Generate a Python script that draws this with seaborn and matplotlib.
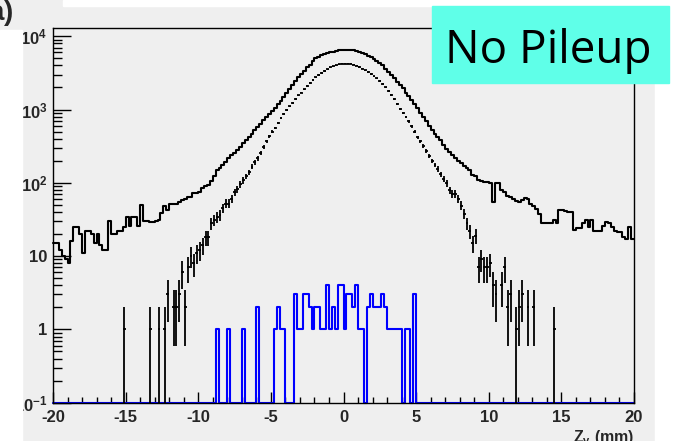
import numpy as np
import pandas as pd
import seaborn as sns
import matplotlib.pyplot as plt
from matplotlib.patches import Rectangle
from matplotlib.ticker import MultipleLocator, LogLocator, NullFormatter

# 200 bins of 0.2 mm, from -20 to 20 mm
all_vertices = [
    15, 15, 12, 10, 9, 8, 16, 25, 25, 20, 11, 22, 22, 20, 15, 20, 14, 12, 12, 30,
    20, 20, 22, 22, 25, 34, 26, 34, 34, 26, 50, 30, 30, 29, 29, 30, 31, 39, 48, 42,
    51, 51, 51, 55, 58, 60, 65, 65, 72, 72, 76, 84, 90, 93, 105, 125, 150, 160, 175, 195,
    215, 237, 255, 280, 310, 345, 380, 420, 465, 520, 570, 640, 710, 790, 870, 960, 1060, 1190, 1320, 1480,
    1680, 1900, 2150, 2450, 2750, 3080, 3400, 3750, 4100, 4550, 4980, 5250, 5500, 5750, 5900, 6050, 6140, 6280, 6400, 6480,
    6550, 6570, 6560, 6480, 6350, 6150, 5900, 5700, 5450, 5200, 4900, 4600, 4300, 4000, 3600, 3250, 2950, 2650, 2400, 2150,
    1940, 1700, 1520, 1350, 1180, 1040, 910, 800, 700, 600, 520, 470, 420, 380, 330, 290, 263, 240, 220, 200,
    185, 170, 158, 150, 128, 125, 110, 105, 103, 103, 100, 55, 98, 98, 80, 75, 67, 65, 60, 57,
    55, 58, 62, 60, 52, 48, 44, 38, 28, 28, 28, 28, 31, 28, 43, 43, 41, 40, 40, 23,
    24, 24, 28, 31, 25, 31, 22, 22, 22, 26, 29, 28, 25, 22, 21, 21, 18, 17, 25, 17,
]

matched = [
    0, 0, 0, 0, 0, 0, 0, 0, 0, 0, 0, 0, 0, 0, 0, 0, 0, 0, 0, 0,
    0, 0, 0, 0, 1, 0, 0, 0, 0, 0, 0, 0, 0, 1, 0, 0, 1, 0, 1, 3,
    0, 2, 2, 3, 6, 2, 7, 10, 8, 11, 12, 14, 18, 18, 28, 31, 34, 36, 45, 52,
    52, 60, 74, 82, 95, 108, 122, 140, 165, 190, 215, 255, 310, 370, 430, 500, 560, 650, 760, 880,
    990, 1100, 1230, 1380, 1560, 1700, 1880, 2100, 2300, 2520, 2750, 2950, 3150, 3350, 3550, 3750, 3900, 4020, 4120, 4200,
    4240, 4230, 4180, 4080, 3950, 3800, 3620, 3450, 3250, 3050, 2850, 2650, 2450, 2240, 2000, 1780, 1580, 1400, 1200, 1030,
    900, 790, 690, 590, 500, 420, 370, 320, 270, 230, 200, 175, 155, 130, 112, 98, 80, 71, 71, 61,
    49, 38, 28, 22, 15, 19, 7, 9, 7, 7, 8, 4, 3, 0, 4, 7, 2, 3, 0, 1,
    2, 3, 0, 2, 0, 2, 0, 0, 0, 0, 0, 0, 1, 0, 0, 0, 0, 0, 0, 0,
    0, 0, 0, 0, 0, 0, 0, 0, 0, 0, 0, 0, 0, 0, 0, 0, 0, 0, 0, 0,
]

fakes = [
    0, 0, 0, 0, 0, 0, 0, 0, 0, 0, 0, 0, 0, 0, 0, 0, 0, 0, 0, 0,
    0, 0, 0, 0, 0, 0, 0, 0, 0, 0, 0, 0, 0, 0, 0, 0, 0, 0, 0, 0,
    0, 0, 0, 0, 0, 0, 0, 0, 0, 0, 0, 0, 0, 0, 0, 0, 1, 0, 0, 0,
    1, 0, 0, 0, 0, 1, 0, 0, 0, 0, 2, 0, 0, 0, 0, 0, 1, 2, 1, 1,
    0, 0, 0, 3, 1, 1, 3, 3, 2, 1, 2, 2, 1, 1, 4, 1, 2, 1, 4, 4,
    1, 3, 3, 2, 4, 1, 1, 0, 2, 3, 2, 2, 2, 3, 2, 1, 1, 1, 1, 1,
    0, 1, 1, 0, 3, 0, 0, 0, 0, 0, 0, 0, 0, 0, 0, 0, 0, 0, 0, 0,
    0, 0, 0, 0, 0, 0, 0, 0, 0, 0, 0, 0, 0, 0, 0, 0, 0, 0, 0, 0,
    0, 0, 0, 0, 0, 0, 0, 0, 0, 0, 0, 0, 0, 0, 0, 0, 0, 0, 0, 0,
    0, 0, 0, 0, 0, 0, 0, 0, 0, 0, 0, 0, 0, 0, 0, 0, 0, 0, 0, 0,
]

x_ticks = [-20, -15, -10, -5, 0, 5, 10, 15, 20]
x_labels = ['-20', '-15', '-10', '-5', '0', '5', '10', '15', '20']
y_ticks = [0.1, 1, 10, 100, 1000, 10000]
y_labels = [r'$\mathbf{10^{-1}}$', '1', '10', r'$\mathbf{10^{2}}$', r'$\mathbf{10^{3}}$', r'$\mathbf{10^{4}}$']

sns.set_style('ticks')
plt.rcParams['font.family'] = ['Liberation Sans', 'DejaVu Sans']
plt.rcParams['mathtext.fontset'] = 'custom'
plt.rcParams['mathtext.rm'] = 'Liberation Sans:bold'
plt.rcParams['mathtext.bf'] = 'Liberation Sans:bold'

bg = '#efefef'
W, H = 674, 441
fig = plt.figure(figsize=(6.74, 4.41), dpi=100, facecolor=bg)
ax = fig.add_axes([53 / W, 1 - 402.7 / H, (634 - 53) / W, (402.7 - 27.7) / H])
ax.set_facecolor(bg)

edges = np.linspace(-20, 20, 201)
centers = (edges[:-1] + edges[1:]) / 2
ymin = 0.1

df = pd.DataFrame({'z': centers, 'all': all_vertices,
                   'fake': np.maximum(fakes, ymin)})  # empty bins sit on the frame bottom, like ROOT

sns.histplot(data=df, x='z', weights='all', bins=200, binrange=(-20, 20), element='step',
             fill=False, color='black', linewidth=1.5, ax=ax)
sns.histplot(data=df, x='z', weights='fake', bins=200, binrange=(-20, 20), element='step',
             fill=False, color='#0000ff', linewidth=1.5, ax=ax)

pts = np.array(matched, dtype=float)
m = pts > 0
ax.errorbar(centers[m], pts[m], yerr=np.sqrt(pts[m]), xerr=0.1, fmt='none',
            ecolor='black', elinewidth=1.3, capsize=0)

ax.set_yscale('log')
ax.set_xlim(-20, 20)
ax.set_ylim(ymin, 10 ** 4.116)
for line in ax.lines:
    line.set_clip_on(False)

ax.xaxis.set_minor_locator(MultipleLocator(1))
ax.yaxis.set_minor_locator(LogLocator(base=10, subs=range(2, 10), numticks=10))
ax.yaxis.set_minor_formatter(NullFormatter())
ax.set_yticks(y_ticks)
ax.set_yticklabels(y_labels, fontweight='bold')
ax.set_xticks(x_ticks)
ax.set_xticklabels(x_labels, fontweight='bold')

ax.tick_params(which='both', direction='in', top=False, right=False, width=1, color='black')
ax.tick_params(axis='x', which='major', length=7.9, pad=5, labelsize=12)
ax.tick_params(axis='x', which='minor', length=4)
ax.tick_params(axis='y', which='major', length=13, pad=4, labelsize=12)
ax.tick_params(axis='y', which='minor', length=6.5)
ax.set_xlabel('')
ax.set_ylabel('')
for s in ax.spines.values():
    s.set_color('black')
    s.set_linewidth(1.0)

# slide background pieces around the cropped plot
fig.patches.append(Rectangle((63 / W, 1 - 6 / H), (674 - 63) / W, 6 / H,
                             transform=fig.transFigure, color='white', zorder=1))
fig.patches.append(Rectangle((0, 0), 22 / W, 1 - 30 / H,
                             transform=fig.transFigure, color='white', zorder=1))
fig.patches.append(Rectangle((655 / W, 0), (674 - 655) / W, 1 - 6 / H,
                             transform=fig.transFigure, color='white', zorder=1))
fig.patches.append(Rectangle((432 / W, 1 - 83 / H), (669 - 432) / W, (83 - 6) / H,
                             transform=fig.transFigure, color='#5fffe8', zorder=5))

fig.text(445 / W, 1 - 63 / H, 'No Pileup', fontsize=33, family='Open Sans', color='black',
         ha='left', va='baseline', zorder=6)
# panel letter, mostly cut off at the left edge
fig.text(4 / W, 1 - 20 / H, 'a', fontsize=20, fontweight='bold', ha='right',
         va='baseline', zorder=6)
fig.text(4 / W, 1 - 20 / H, ')', fontsize=20, fontweight='bold', ha='left',
         va='baseline', zorder=6)
fig.text(634 / W, 1 - 442 / H, r'Z$_{\mathrm{v}}$ (mm)', fontsize=11.5, fontweight='bold',
         ha='right', va='baseline', zorder=6)

fig.savefig('out.png', dpi=100, facecolor=bg)
